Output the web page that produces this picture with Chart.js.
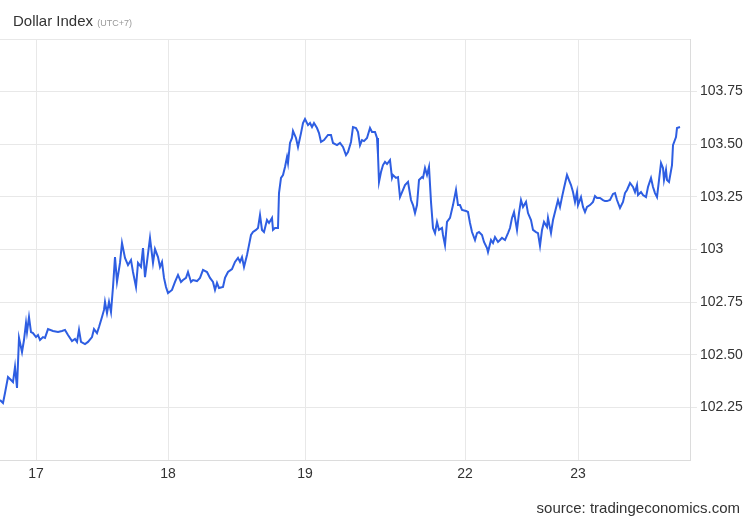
<!DOCTYPE html>
<html>
<head>
<meta charset="utf-8">
<title>Dollar Index</title>
<script src="https://cdn.jsdelivr.net/npm/chart.js@4.4.1/dist/chart.umd.min.js"></script>
<style>
html,body{margin:0;padding:0;background:#fff;}
#wrap{position:relative;width:750px;height:520px;overflow:hidden;font-family:'Liberation Sans',Arial,sans-serif;}
canvas{position:absolute;left:0;top:0;}
#title{position:absolute;left:13px;top:12px;font-size:15px;line-height:17px;color:#333;white-space:nowrap;}
#title small{font-size:9px;color:#999;}
#source{position:absolute;right:10px;top:499px;font-size:15px;line-height:17px;color:#333;white-space:nowrap;}
</style>
</head>
<body>
<div id="wrap">
  <canvas id="chart" width="750" height="520"></canvas>
  <div id="title">Dollar Index <small>(UTC+7)</small></div>
  <div id="source">source: tradingeconomics.com</div>
</div>
<script>
// position along the trading timeline (same units as the day ticks)
const times = [
  0,3,5,8,11,13,15,17,19,22,24,26,27,29,31,33,36,38,40,43,45,48,53,58,62,65,68,72,75,77,79,81,85,88,92,94,97,99,102,104,105,107,109,111,113,115,
  117,120,122,125,128,131,133,136,138,141,143,145,147,150,153,155,158,160,162,164,166,168,172,175,178,181,183,186,188,191,193,197,200,203,207,210,213,215,217,219,223,
  225,228,232,235,238,240,242,244,247,249,251,253,256,258,260,262,264,267,269,272,273,275,278,279,281,283,285,287,288,290,292,293,296,298,301,303,305,308,310,312,314,317,319,321,324,328,331,333,337,
  340,343,346,348,351,353,356,358,360,362,364,367,370,372,375,377,378,379,381,383,385,387,390,392,393,396,398,400,403,405,408,411,413,415,417,419,422,423,425,427,429,431,433,435,437,439,442,443,445,447,450,453,456,
  458,460,462,466,468,470,472,475,477,479,482,484,487,488,491,493,495,498,500,502,505,508,510,512,514,517,519,521,523,526,528,531,533,536,538,540,542,544,547,548,551,553,556,558,560,562,564,567,569,571,573,
  575,577,578,581,583,585,587,590,593,595,597,600,603,605,607,610,613,615,617,620,623,625,627,630,633,635,637,638,641,643,646,648,651,653,655,657,659,661,663,664,666,667,669,672,673,676,677,680
];
const values = [
  102.285,102.271,102.318,102.394,102.380,102.370,102.442,102.342,102.580,102.513,102.570,102.651,102.608,102.679,102.608,102.603,102.584,102.594,102.570,102.584,102.580,102.622,102.613,102.608,102.613,102.618,102.594,102.565,102.575,102.561,102.618,102.561,102.551,102.561,102.584,102.622,102.603,102.632,102.679,102.713,102.751,102.698,102.751,102.703,102.822,102.964,
  102.846,102.936,103.031,102.960,102.926,102.950,102.893,102.822,102.936,102.917,103.007,102.869,102.941,103.055,102.936,103.002,102.964,102.917,102.941,102.865,102.822,102.793,102.808,102.846,102.879,102.846,102.855,102.865,102.893,102.846,102.855,102.850,102.865,102.903,102.893,102.865,102.846,102.808,102.841,102.817,102.822,
  102.865,102.893,102.907,102.941,102.960,102.941,102.964,102.917,102.974,103.021,103.069,103.083,103.093,103.102,103.164,103.093,103.083,103.140,103.126,103.150,103.093,103.102,103.102,103.268,103.340,103.354,103.392,103.439,103.411,103.506,103.530,103.563,103.530,103.487,103.553,103.601,103.620,103.591,103.601,103.582,103.601,103.577,103.553,103.511,103.520,103.544,103.544,103.506,103.496,
  103.506,103.487,103.449,103.463,103.511,103.582,103.577,103.558,103.496,103.520,103.515,103.530,103.577,103.558,103.558,103.530,103.449,103.321,103.368,103.401,103.416,103.406,103.425,103.340,103.354,103.340,103.344,103.249,103.283,103.306,103.321,103.235,103.211,103.173,103.211,103.330,103.344,103.340,103.387,103.354,103.392,103.226,103.102,103.078,103.131,103.093,103.102,103.069,103.021,103.131,103.150,103.211,103.283,
  103.211,103.211,103.188,103.183,103.178,103.126,103.083,103.045,103.078,103.083,103.069,103.036,103.007,102.988,103.045,103.031,103.059,103.036,103.045,103.055,103.045,103.078,103.102,103.150,103.178,103.093,103.173,103.235,103.202,103.226,103.173,103.140,103.093,103.083,103.078,103.017,103.093,103.131,103.107,103.150,103.078,103.140,103.197,103.235,103.202,103.249,103.292,103.354,103.330,103.306,103.273,
  103.226,103.273,103.211,103.249,103.202,103.178,103.202,103.211,103.226,103.254,103.245,103.245,103.235,103.230,103.230,103.235,103.264,103.268,103.235,103.197,103.226,103.268,103.283,103.316,103.297,103.273,103.306,103.259,103.273,103.259,103.249,103.297,103.340,103.297,103.268,103.249,103.330,103.411,103.387,103.330,103.378,103.330,103.321,103.401,103.496,103.534,103.577,103.582
];

// x axis day labels and where they sit on the timeline
const dayTicks = [36, 168, 305, 465, 578];
const dayLabels = ['17', '18', '19', '22', '23'];
const timeMax = 690;

// y axis
const yMin = 102, yMax = 104, yStep = 0.25;

const FONT = "'Liberation Sans', Arial, sans-serif";
const gridCol = '#e8e8e8';

const ctx = document.getElementById('chart').getContext('2d');
new Chart(ctx, {
  type: 'line',
  data: {
    datasets: [{
      data: times.map((t, i) => ({x: t, y: values[i]})),
      borderColor: '#2e5ee2',
      borderWidth: 2,
      pointRadius: 0,
      tension: 0,
      fill: false
    }]
  },
  options: {
    responsive: false,
    animation: false,
    layout: {padding: {top: 39, left: 0, right: 0, bottom: 0}},
    plugins: {legend: {display: false}, tooltip: {enabled: false}},
    scales: {
      x: {
        type: 'linear', min: 0, max: timeMax,
        afterBuildTicks: s => { s.ticks = dayTicks.map(v => ({value: v})); },
        afterFit: s => { s.height = 60; },
        ticks: {
          autoSkip: false, maxRotation: 0, padding: 6, color: '#333',
          font: {family: FONT, size: 14},
          callback: v => { const i = dayTicks.indexOf(v); return i < 0 ? '' : dayLabels[i]; }
        },
        grid: {color: gridCol, drawTicks: false},
        border: {color: '#dcdcdc'}
      },
      y: {
        position: 'right', min: yMin, max: yMax,
        afterFit: s => { s.width = 60; },
        ticks: {
          stepSize: yStep, padding: 3, color: '#333',
          font: {family: FONT, size: 14},
          callback: v => (v <= yMin || v >= yMax) ? '' : (Number.isInteger(v) ? String(v) : v.toFixed(2))
        },
        grid: {
          color: gridCol, tickLength: 7,
          tickColor: c => (c.tick && (c.tick.value <= yMin || c.tick.value >= yMax)) ? 'rgba(0,0,0,0)' : gridCol
        },
        border: {color: '#dcdcdc'}
      }
    }
  }
});
</script>
</body>
</html>
